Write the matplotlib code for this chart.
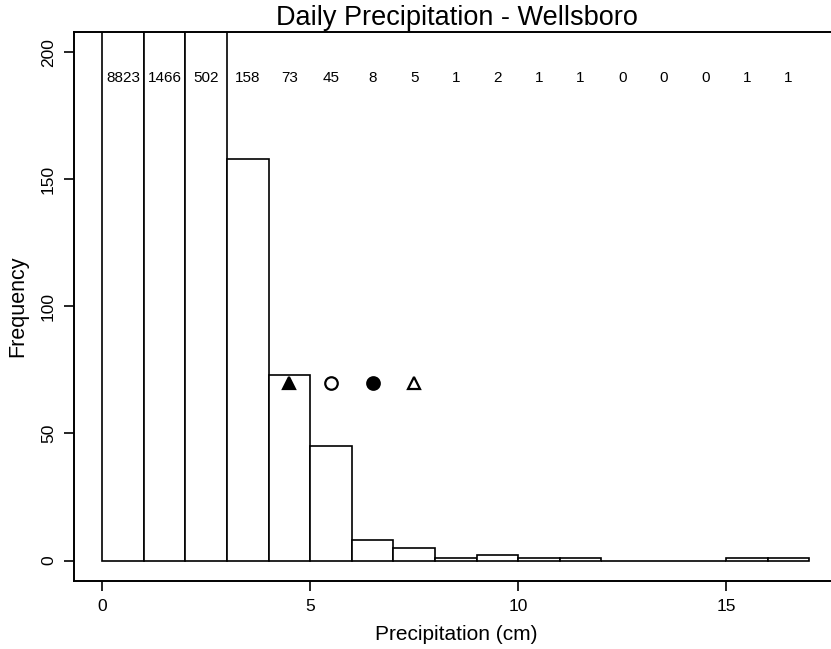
import numpy as np
import matplotlib.pyplot as plt

plt.rcParams['font.family'] = ['Liberation Sans', 'DejaVu Sans']

# Histogramme des precipitations journalieres (bins de 1 cm)
bin_edges = list(range(0, 18))
counts = [8823, 1466, 502, 158, 73, 45, 8, 5, 1, 2, 1, 1, 0, 0, 0, 1, 1]

# marqueurs places sous les barres
marker_x = [4.5, 5.5, 6.5, 7.5]
marker_y = [70, 70, 70, 70]
marker_style = ['^', 'o', 'o', '^']
marker_fill = ['black', 'white', 'black', 'white']

fig = plt.figure(figsize=(8.31, 6.49), dpi=100)
ax = fig.add_axes([0.089, 0.105, 0.919, 0.846])

lefts = np.array(bin_edges[:-1])
ax.bar(lefts, counts, width=1, align='edge', color='white',
       edgecolor='black', linewidth=1.2, clip_on=True)

for i, c in enumerate(counts):
    ax.text(lefts[i] + 0.5, 190, str(c), ha='center', va='center', fontsize=11)

for x, y, m, f in zip(marker_x, marker_y, marker_style, marker_fill):
    ax.plot(x, y, marker=m, markersize=9, markerfacecolor=f,
            markeredgecolor='black', markeredgewidth=1.6, linestyle='none')

ax.set_xlim(-0.68, 17.68)
ax.set_ylim(-8, 208)
ax.set_xticks([0, 5, 10, 15])
ax.set_yticks([0, 50, 100, 150, 200])
ax.tick_params(direction='out', length=7, width=1.2, labelsize=12.5, pad=6)
for lab in ax.get_yticklabels():
    lab.set_rotation(90)
    lab.set_va('center')
for s in ax.spines.values():
    s.set_linewidth(1.4)
ax.spines['right'].set_visible(False)

ax.set_xlabel('Precipitation (cm)', fontsize=15, labelpad=8)
ax.set_ylabel('Frequency', fontsize=15.5, labelpad=9)
fig.text(0.55, 0.972, 'Daily Precipitation - Wellsboro', ha='center',
         va='center', fontsize=19.5)

fig.savefig('out.png', dpi=100)
